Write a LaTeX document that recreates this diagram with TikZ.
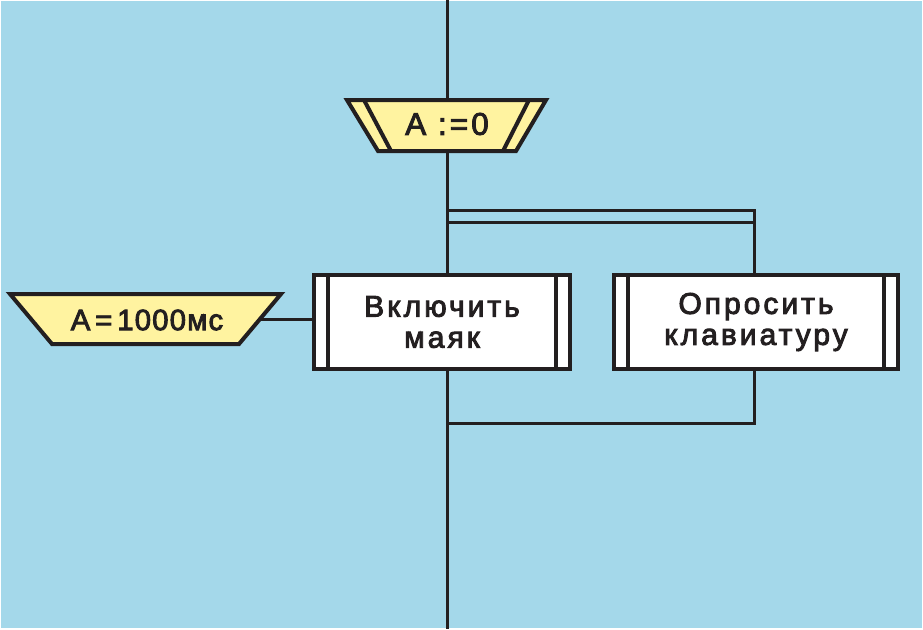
\documentclass[tikz,border=0pt]{standalone}
\usepackage{fontspec}
\setmainfont{Liberation Sans}[LetterSpace=10, FakeBold=3]
\usetikzlibrary{calc}
\definecolor{bg}{RGB}{164,216,234}
\definecolor{yel}{RGB}{255,243,160}
\definecolor{ink}{RGB}{35,31,32}
\begin{document}
\begin{tikzpicture}[x=0.75pt,y=-0.75pt,
  conn/.style={draw=ink, line width=2.25pt},
  shapeline/.style={draw=ink, line width=3pt, line join=miter},
  procbox/.style={draw=ink, fill=white, line width=3pt, minimum height=94*0.75pt,
     inner sep=0pt, align=center, text=ink, font=\fontsize{22.5}{23.25}\selectfont},
  lbl/.style={inner sep=0pt, text=ink, font=\fontsize{22}{23.25}\selectfont}]
% background
\fill[white] (0,0) rectangle (923,629);
\fill[bg] (1,1) rectangle (922,628);
\useasboundingbox (0,0) rectangle (923,629);
% coordinates
\coordinate (top) at (447,0);
\coordinate (bot) at (447,629);
\coordinate (p1a) at (447,210);
\coordinate (p1b) at (754,210);
\coordinate (p2a) at (447,222);
\coordinate (p2b) at (754,222);
\coordinate (j1) at (447,423);
\coordinate (j2) at (754,423);
% main vertical line
\draw[conn] (top) -- (bot);
% parallel branch lines
\draw[conn] (p2a) -- (p2b);
% boxes
\node[procbox, minimum width=256*0.75pt] (b1) at (442,322) {Включить\\маяк};
\node[procbox, minimum width=284*0.75pt] (b2) at (756,322) {Опросить\\клавиатуру};
\foreach \b in {b1,b2}{
  \draw[shapeline] ($(\b.north west)+(15.5,0)$) -- ($(\b.south west)+(15.5,0)$);
  \draw[shapeline] ($(\b.north east)+(-16.5,0)$) -- ($(\b.south east)+(-16.5,0)$);
}
\draw[conn, line join=miter] (p1a) -- (p1b) -- (p1b |- b2.north);
\draw[conn, line join=miter] (j2 |- b2.south) -- (j2) -- (j1);
% top trapezoid
\filldraw[shapeline, fill=yel] (347,100) -- (546,100) -- (516,151) -- (378,151) -- cycle;
\draw[shapeline] (364,100) -- (391,151);
\draw[shapeline] (529,100) -- (503,151);
\node[lbl, font=\fontsize{23.5}{24}\selectfont] (t1) at (447,124) {A :=0};
% left trapezoid
\filldraw[shapeline, fill=yel] (10,294) -- (281,294) -- (239,344) -- (52,344) -- cycle;
\node[lbl, font=\fontsize{22}{23.25}\selectfont\addfontfeature{LetterSpace=4}] (t2) at (147,320) {A\,=\,1000мс};
\coordinate (t2r) at (260,319);
\draw[conn] (t2r) -- (t2r -| b1.west);
\end{tikzpicture}
\end{document}
